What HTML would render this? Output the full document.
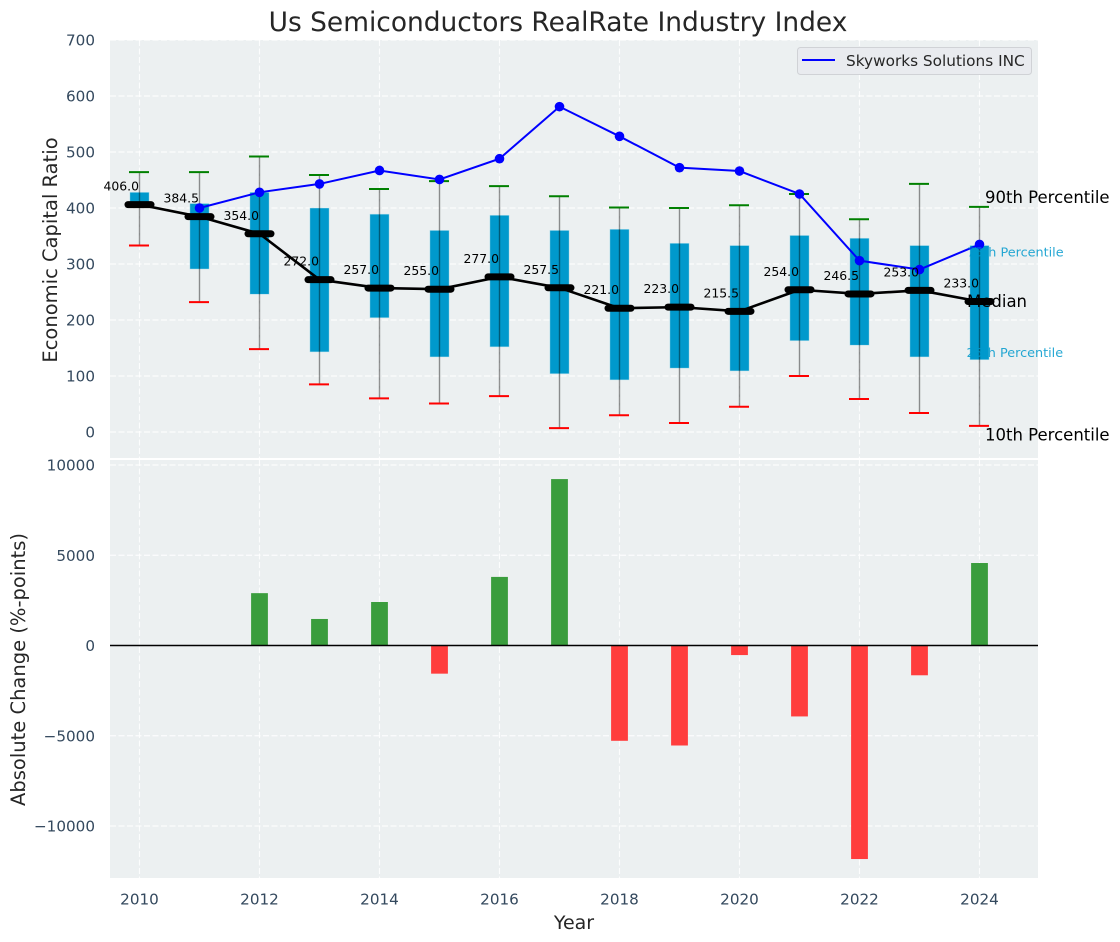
<!DOCTYPE html>
<html>
<head>
<meta charset="utf-8">
<title>Us Semiconductors RealRate Industry Index</title>
<style>
html,body{margin:0;padding:0;background:#fff;}
svg{display:block;font-family:"DejaVu Sans","Liberation Sans",sans-serif;}
</style>
</head>
<body>
<svg id="chart" xmlns="http://www.w3.org/2000/svg" width="1120" height="942" viewBox="0 0 1120 942">
  <rect x="0" y="0" width="1120" height="942" fill="#ffffff"/>
  <text x="558" y="31" text-anchor="middle" font-size="26.45" fill="#262626">Us Semiconductors RealRate Industry Index</text>
  <rect x="110" y="40" width="928" height="418" fill="#ecf0f1"/>
  <rect x="110" y="460" width="928" height="418" fill="#ecf0f1"/>
  <g id="grid"></g>
  <g id="top"></g>
  <g id="bottom"></g>
  <g id="axes"></g>
  <text transform="translate(57,250) rotate(-90)" text-anchor="middle" font-size="19.5" fill="#262626">Economic Capital Ratio</text>
  <text transform="translate(25,669.5) rotate(-90)" text-anchor="middle" font-size="19.5" fill="#262626">Absolute Change (%-points)</text>
  <text x="574" y="929" text-anchor="middle" font-size="19" fill="#262626">Year</text>
  <g>
    <rect x="797.5" y="47.5" width="234" height="27" rx="3" fill="#e9ebef" stroke="#d0d2d6" stroke-width="1"/>
    <line x1="802" y1="60" x2="835" y2="60" stroke="#0000ff" stroke-width="2"/>
    <text x="846" y="66" font-size="15.3" fill="#262626">Skyworks Solutions INC</text>
  </g>
</svg>
<script>
const years = [2010,2011,2012,2013,2014,2015,2016,2017,2018,2019,2020,2021,2022,2023,2024];
const p90 = [464,464,492,459,434,448,439,421,401,400,405,425,380,443,402];
const q3 = [428,408,428,400,389,360,387,360,362,337,333,351,346,333,333];
const medians = [406,384.5,354,272,257,255,277,257.5,221,223,215.5,254,246.5,253,233];
const q1 = [405,291,246,143,204,134,152,104,93,114,109,163,155,134,129];
const p10 = [333,232,148,85,60,51,64,7,30,16,45,100,59,34,11];
const skyworks = [null,400,428,443,467,451,488,581,528,472,466,425,306,290,335];
const changes = [null,null,2900,1470,2410,-1560,3800,9220,-5280,-5540,-530,-3930,-11830,-1650,4570];
const topTicks = [0,100,200,300,400,500,600,700];
const bottomTicks = [-10000,-5000,0,5000,10000];
const xTicks = [2010,2012,2014,2016,2018,2020,2022,2024];

const NS = 'http://www.w3.org/2000/svg';
const x = v => 139.5 + (v - 2010) * 60;
const yTop = v => 432 - v * 0.56;
const yBot = v => 645.5 - v * 0.01805;
const gridG = document.getElementById('grid');
const topG = document.getElementById('top');
const botG = document.getElementById('bottom');
const axG = document.getElementById('axes');

function mk(parent, tag, attrs, txt) {
  const el = document.createElementNS(NS, tag);
  for (const k in attrs) el.setAttribute(k, attrs[k]);
  if (txt !== undefined) el.textContent = txt;
  parent.appendChild(el);
  return el;
}
const gridStyle = {stroke:'#ffffff','stroke-width':1.15,'stroke-dasharray':'6 2.5','stroke-opacity':0.82};

/* grid */
xTicks.forEach(t => {
  const a = mk(gridG,'line',Object.assign({x1:x(t),x2:x(t),y1:40,y2:458},gridStyle));
  
  
  const b = mk(gridG,'line',Object.assign({x1:x(t),x2:x(t),y1:460,y2:878},gridStyle));
  
  
  const l = mk(axG,'text',{x:x(t),y:904.5,'text-anchor':'middle','font-size':15.2,fill:'#34495e'},String(t));
  
  
});
topTicks.forEach(t => {
  const g = mk(gridG,'line',Object.assign({x1:110,x2:1038,y1:yTop(t),y2:yTop(t)},gridStyle));
  
  
  const l = mk(axG,'text',{x:95,y:yTop(t)+5.5,'text-anchor':'end','font-size':15.2,fill:'#34495e'},String(t));
  
  
});
bottomTicks.forEach(t => {
  const g = mk(gridG,'line',Object.assign({x1:110,x2:1038,y1:yBot(t),y2:yBot(t)},gridStyle));
  
  
  const l = mk(axG,'text',{x:95,y:yBot(t)+5.5,'text-anchor':'end','font-size':15.2,fill:'#34495e'},String(t).replace('-','\u2212'));
  
  
});

/* boxes */
years.forEach((yr,i) => {
  const b = mk(topG,'rect',{x:x(yr)-9.6,width:19.2,y:yTop(q3[i]),height:yTop(q1[i])-yTop(q3[i]),fill:'#0099cc',stroke:'#bfe3ef','stroke-width':0.6,'stroke-opacity':0.8});
  
  
});
/* whiskers */
years.forEach((yr,i) => {
  const w = mk(topG,'line',{x1:x(yr),x2:x(yr),y1:yTop(p90[i]),y2:yTop(p10[i]),stroke:'#000000','stroke-width':1.4,'stroke-opacity':0.42});
  
  
  const hi = mk(topG,'line',{x1:x(yr)-10.5,x2:x(yr)+9.5,y1:yTop(p90[i]),y2:yTop(p90[i]),stroke:'#008000','stroke-width':2});
  
  
  const lo = mk(topG,'line',{x1:x(yr)-10.5,x2:x(yr)+9.5,y1:yTop(p10[i]),y2:yTop(p10[i]),stroke:'#ff0000','stroke-width':2});
  
  
});
/* median line */
const medPts = years.map((yr,i) => x(yr) + ',' + yTop(medians[i])).join(' ');
const medLine = mk(topG,'polyline',{points:medPts,fill:'none',stroke:'#000000','stroke-width':2.6,'stroke-linejoin':'round'});


years.forEach((yr,i) => {
  const m = mk(topG,'line',{x1:x(yr)-11.5,x2:x(yr)+11.5,y1:yTop(medians[i]),y2:yTop(medians[i]),stroke:'#000000','stroke-width':7,'stroke-linecap':'round'});
  
  
});
/* skyworks line */
const skyPts = years.map((yr,i) => skyworks[i] === null ? null : x(yr) + ',' + yTop(skyworks[i])).filter(Boolean).join(' ');
const skyLine = mk(topG,'polyline',{points:skyPts,fill:'none',stroke:'#0000ff','stroke-width':2});


years.forEach((yr,i) => {
  if (skyworks[i] === null) return;
  const c = mk(topG,'circle',{cx:x(yr),cy:yTop(skyworks[i]),r:4.8,fill:'#0000ff'});
  
  
});
/* median labels */
years.forEach((yr,i) => {
  const t = mk(topG,'text',{x:x(yr)-0.5,y:yTop(medians[i])-14,'text-anchor':'end','font-size':12.4,fill:'#000000'},medians[i].toFixed(1));
  
  
});
/* percentile annotations anchored on the final year */
const last = years.length - 1;
const pLabel90 = mk(topG,'text',{x:x(years[last])+5.5,y:yTop(p90[last])-4,'font-size':16.5,fill:'#000000'},'90th Percentile');


const pLabel75 = mk(topG,'text',{x:x(years[last])-12.5,y:yTop(q3[last])+11,'font-size':12.8,fill:'#0099cc','fill-opacity':0.85},'75th Percentile');


const pLabelMed = mk(topG,'text',{x:x(years[last])-12.5,y:yTop(medians[last])+5.5,'font-size':16.5,fill:'#000000'},'Median');


const pLabel25 = mk(topG,'text',{x:x(years[last])-13,y:yTop(q1[last])-3,'font-size':12.8,fill:'#0099cc','fill-opacity':0.85},'25th Percentile');


const pLabel10 = mk(topG,'text',{x:x(years[last])+5.5,y:yTop(p10[last])+14.5,'font-size':16.5,fill:'#000000'},'10th Percentile');



/* bottom bars */
years.forEach((yr,i) => {
  const v = changes[i];
  if (v === null) return;
  const y0 = yBot(Math.max(v,0));
  const h = Math.abs(yBot(v) - yBot(0));
  const r = mk(botG,'rect',{x:x(yr)-8.4,width:16.8,y:y0,height:h,fill:v >= 0 ? '#3a9d3d' : '#ff3d3d'});
  
  
});
const zero = mk(botG,'line',{x1:110,x2:1038,y1:yBot(0),y2:yBot(0),stroke:'#000000','stroke-width':1.5});


</script>
</body>
</html>
